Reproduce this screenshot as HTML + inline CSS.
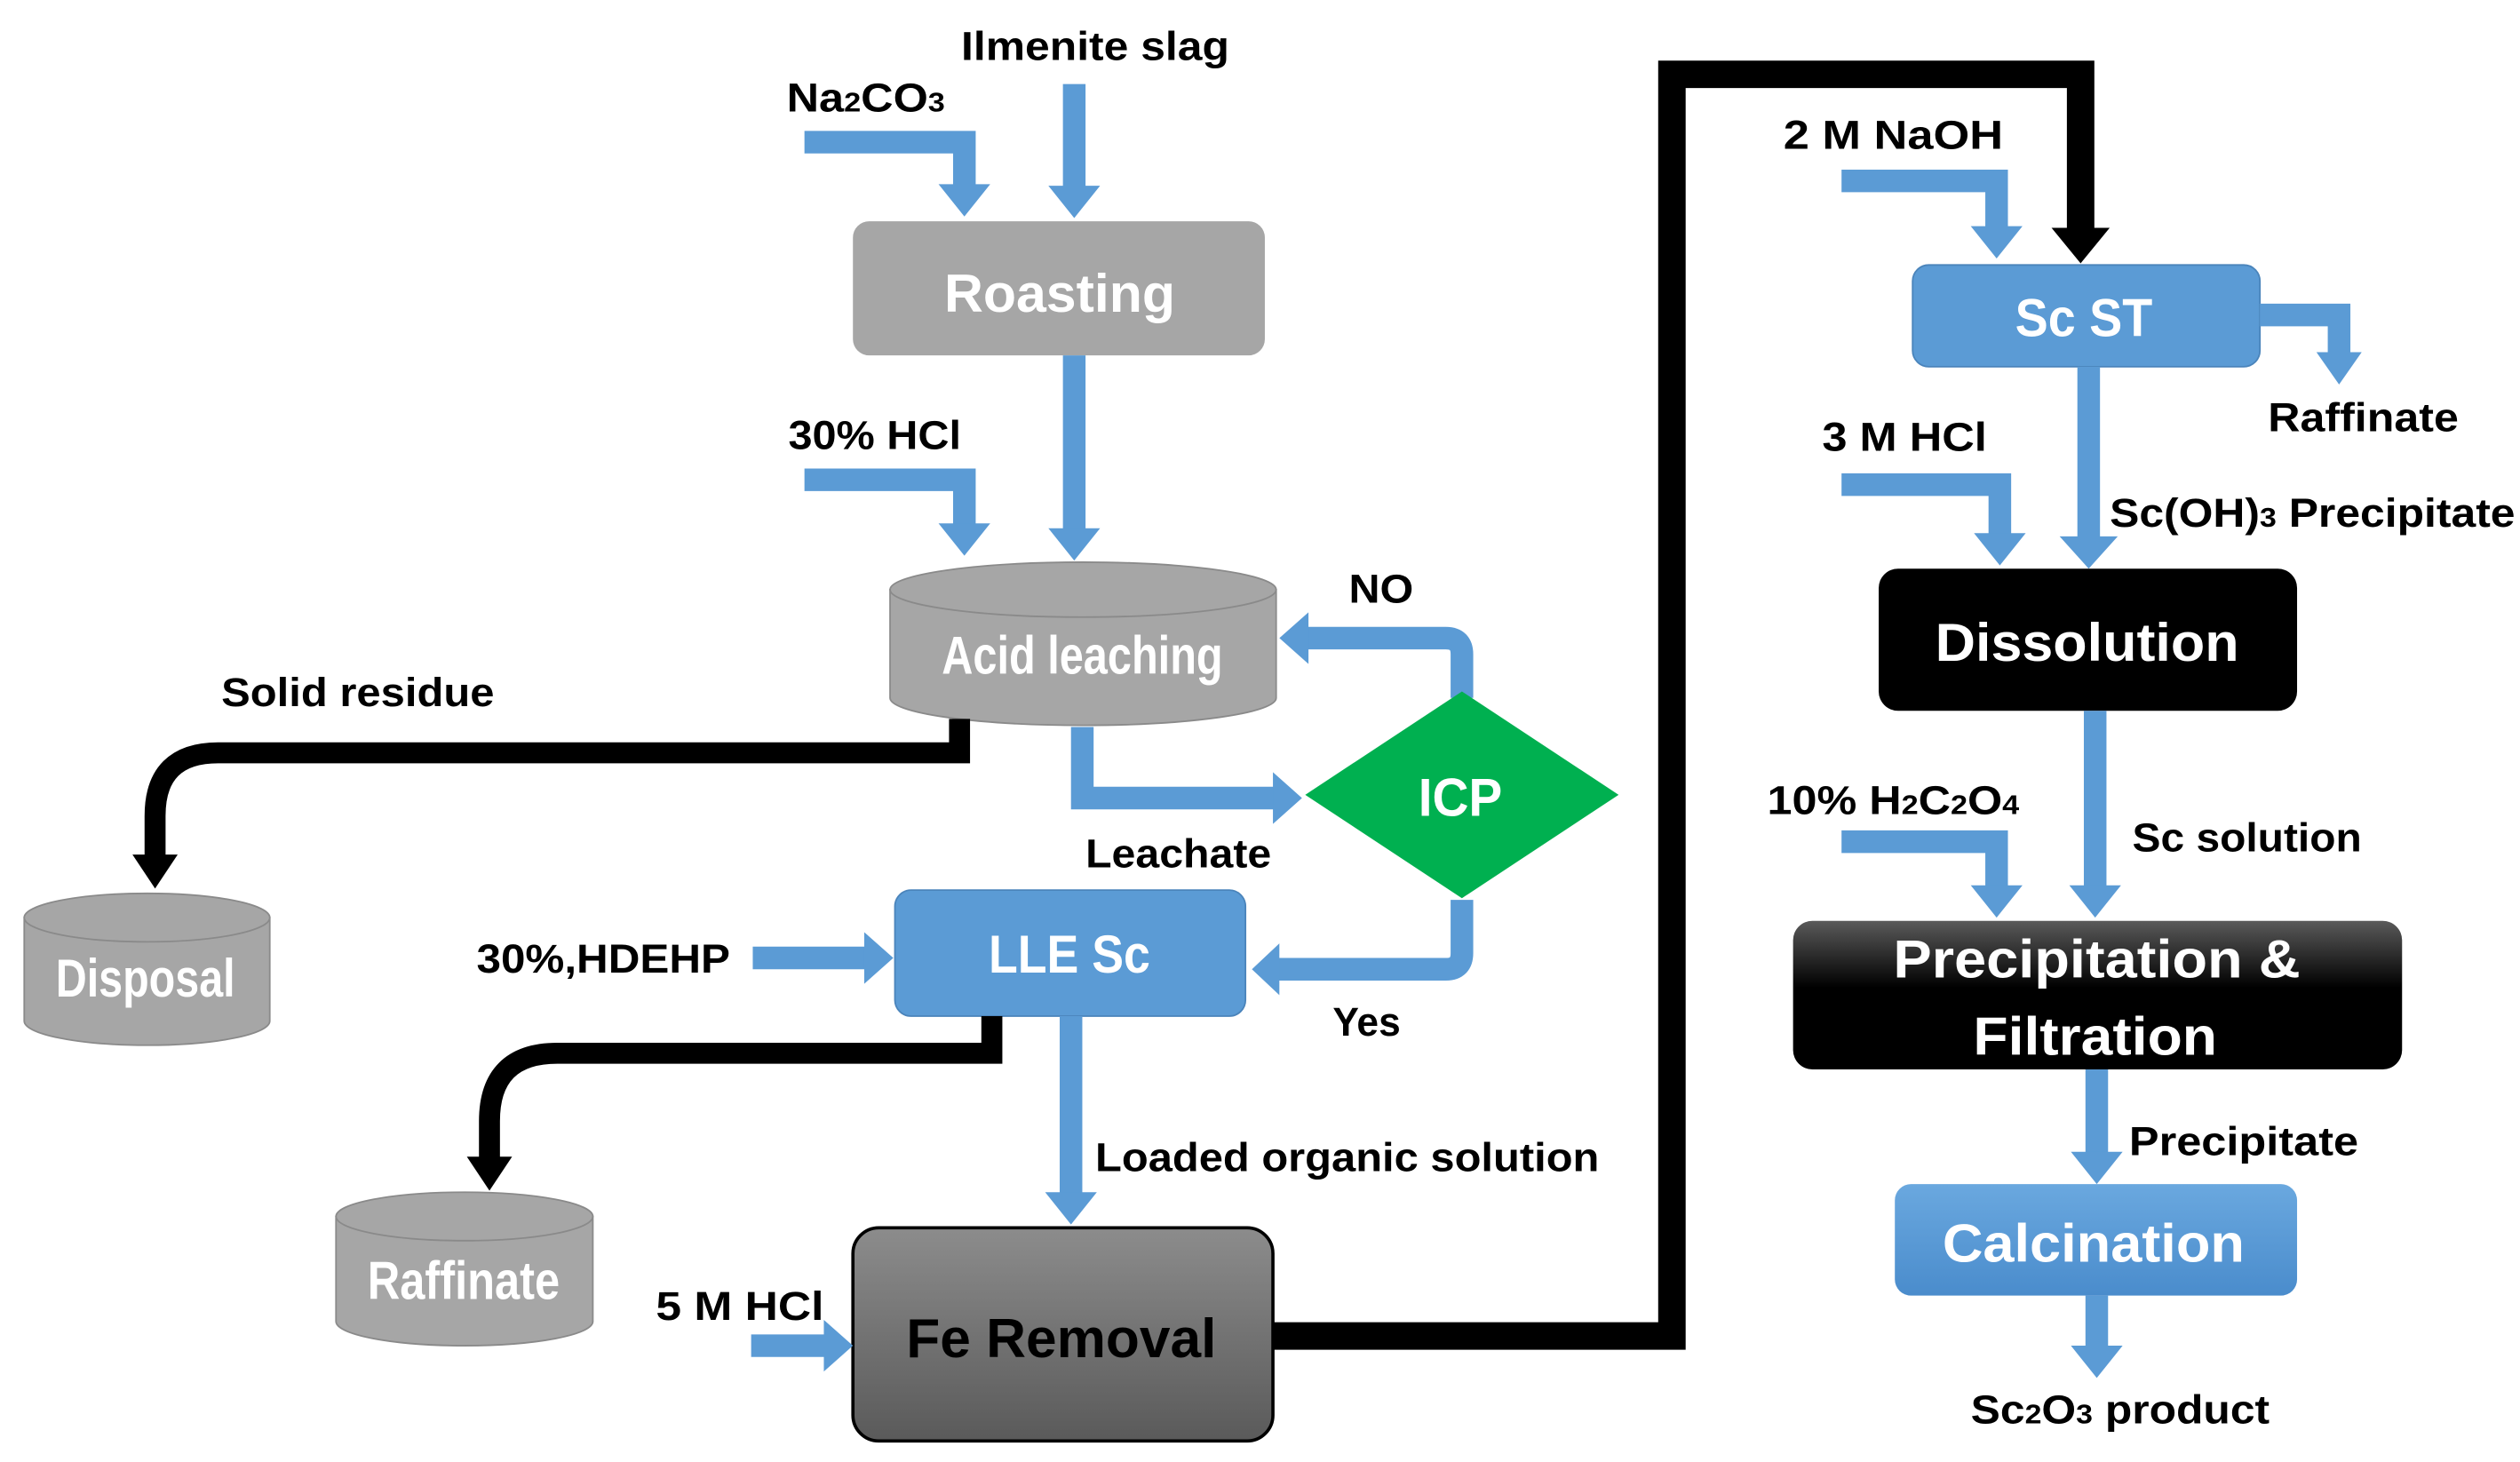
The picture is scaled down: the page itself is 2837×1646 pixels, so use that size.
<!DOCTYPE html>
<html><head><meta charset="utf-8"><style>
html,body{margin:0;padding:0;background:#fff;}
svg{display:block}
text{font-family:"Liberation Sans",sans-serif;font-weight:bold;}
.l{font-size:25px;fill:#000}
.w{fill:#fff;font-size:33px;text-anchor:middle}
.b{fill:none;stroke:#5B9BD5;stroke-width:14}
.h{fill:#5B9BD5}
.k{fill:none;stroke:#000;stroke-width:13}
</style></head><body>
<svg width="2837" height="1646" viewBox="0 0 1560 905" preserveAspectRatio="none">
<defs>
<linearGradient id="fe" x1="0" y1="0" x2="0" y2="1"><stop offset="0" stop-color="#8c8c8c"/><stop offset="1" stop-color="#5a5a5a"/></linearGradient>
<linearGradient id="pf" x1="0" y1="0" x2="0" y2="1"><stop offset="0" stop-color="#5a5a5a"/><stop offset="0.45" stop-color="#000"/><stop offset="1" stop-color="#000"/></linearGradient>
<linearGradient id="ca" x1="0" y1="0" x2="0" y2="1"><stop offset="0" stop-color="#6aa8df"/><stop offset="1" stop-color="#4a8ccc"/></linearGradient>
</defs>

<text class="l" x="595" y="37" textLength="166" lengthAdjust="spacingAndGlyphs">Ilmenite slag</text>
<polyline class="b" points="665,52 665,116"/><polygon class="h" points="649,115 681,115 665,135"/>
<text class="l" x="487" y="69" textLength="98" lengthAdjust="spacingAndGlyphs">Na<tspan font-size="17">2</tspan>CO<tspan font-size="17">3</tspan></text>
<polyline class="b" points="498,88 597,88 597,115"/><polygon class="h" points="581,114 613,114 597,134"/>

<rect x="528" y="137" width="255" height="83" rx="10" fill="#A6A6A6"/>
<text class="w" x="656" y="193" font-size="34" textLength="143" lengthAdjust="spacingAndGlyphs">Roasting</text>

<polyline class="b" points="665,220 665,328"/><polygon class="h" points="649,327 681,327 665,347"/>
<text class="l" x="488" y="278" textLength="107" lengthAdjust="spacingAndGlyphs">30% HCl</text>
<polyline class="b" points="498,297 597,297 597,325"/><polygon class="h" points="581,324 613,324 597,344"/>

<path d="M551,365 L551,432 A119.5,17 0 0 0 790,432 L790,365 Z" fill="#A6A6A6" stroke="#8a8a8a"/>
<ellipse cx="670.5" cy="365" rx="119.5" ry="17" fill="#A6A6A6" stroke="#8a8a8a"/>
<text class="w" x="670" y="417" font-size="28" textLength="174" lengthAdjust="spacingAndGlyphs">Acid leaching</text>

<path class="b" d="M905,432 L905,405 Q905,395 895,395 L808,395"/><polygon class="h" points="810,379 810,411 792,395"/>
<text class="l" x="835" y="373" textLength="40" lengthAdjust="spacingAndGlyphs">NO</text>

<polygon points="905,428 1002,492 905,556 808,492" fill="#00B050"/>
<text class="w" x="904" y="505" font-size="34" textLength="52" lengthAdjust="spacingAndGlyphs">ICP</text>

<polyline class="b" points="670,450 670,494 790,494"/><polygon class="h" points="788,478 788,510 806,494"/>
<text class="l" x="672" y="537" textLength="115" lengthAdjust="spacingAndGlyphs">Leachate</text>

<path class="b" d="M905,557 L905,590 Q905,600 895,600 L790,600"/><polygon class="h" points="792,584 792,616 775,600"/>
<text class="l" x="825" y="641" textLength="42" lengthAdjust="spacingAndGlyphs">Yes</text>

<rect x="554" y="551" width="217" height="78" rx="10" fill="#5B9BD5" stroke="#4a84bb"/>
<text class="w" x="662" y="602" font-size="33" textLength="100" lengthAdjust="spacingAndGlyphs">LLE Sc</text>
<text class="l" x="295" y="602" textLength="157" lengthAdjust="spacingAndGlyphs">30%,HDEHP</text>
<polyline class="b" points="466,593 536,593"/><polygon class="h" points="535,577 535,609 553,593"/>

<text class="l" x="137" y="437" textLength="169" lengthAdjust="spacingAndGlyphs">Solid residue</text>
<path class="k" d="M594,445 L594,466 L135,466 Q96,466 96,505 L96,530"/><polygon points="82,529 110,529 96,550" fill="#000"/>
<path d="M15,568 L15,632 A76,15 0 0 0 167,632 L167,568 Z" fill="#A6A6A6" stroke="#8a8a8a"/>
<ellipse cx="91" cy="568" rx="76" ry="15" fill="#A6A6A6" stroke="#8a8a8a"/>
<text class="w" x="90" y="617" font-size="27" textLength="111" lengthAdjust="spacingAndGlyphs">Disposal</text>

<path class="k" d="M614,629 L614,652 L345,652 Q303,652 303,694 L303,717"/><polygon points="289,716 317,716 303,737" fill="#000"/>
<path d="M208,753 L208,818 A79.5,15 0 0 0 367,818 L367,753 Z" fill="#A6A6A6" stroke="#8a8a8a"/>
<ellipse cx="287.5" cy="753" rx="79.5" ry="15" fill="#A6A6A6" stroke="#8a8a8a"/>
<text class="w" x="287" y="804" font-size="27" textLength="119" lengthAdjust="spacingAndGlyphs">Raffinate</text>

<polyline class="b" points="663,629 663,739"/><polygon class="h" points="647,738 679,738 663,758"/>
<text class="l" x="678" y="725" textLength="312" lengthAdjust="spacingAndGlyphs">Loaded organic solution</text>

<rect x="528" y="760" width="260" height="132" rx="16" fill="url(#fe)" stroke="#000" stroke-width="2"/>
<text x="657" y="840" font-size="34" text-anchor="middle" fill="#000" textLength="192" lengthAdjust="spacingAndGlyphs">Fe Removal</text>
<text class="l" x="406" y="817" textLength="104" lengthAdjust="spacingAndGlyphs">5 M HCl</text>
<polyline class="b" points="465,833 511,833"/><polygon class="h" points="510,817 510,849 528,833"/>

<path fill="none" stroke="#000" stroke-width="17" d="M788,827 L1035,827 L1035,46 L1288,46 L1288,142"/>
<polygon points="1270,141 1306,141 1288,163" fill="#000"/>

<text class="l" x="1104" y="92" textLength="136" lengthAdjust="spacingAndGlyphs">2 M NaOH</text>
<polyline class="b" points="1140,112 1236,112 1236,141"/><polygon class="h" points="1220,140 1252,140 1236,160"/>

<rect x="1184" y="164" width="215" height="63" rx="10" fill="#5B9BD5" stroke="#4a84bb"/>
<text class="w" x="1290" y="208" font-size="33" textLength="85" lengthAdjust="spacingAndGlyphs">Sc ST</text>
<polyline class="b" points="1399,195 1448,195 1448,219"/><polygon class="h" points="1434,218 1462,218 1448,238"/>
<text class="l" x="1404" y="267" textLength="118" lengthAdjust="spacingAndGlyphs">Raffinate</text>

<polyline class="b" points="1293,227 1293,333"/><polygon class="h" points="1275,332 1311,332 1293,352"/>
<text class="l" x="1306" y="326" textLength="251" lengthAdjust="spacingAndGlyphs">Sc(OH)<tspan font-size="17">3</tspan> Precipitate</text>
<text class="l" x="1128" y="279" textLength="102" lengthAdjust="spacingAndGlyphs">3 M HCl</text>
<polyline class="b" points="1140,300 1238,300 1238,331"/><polygon class="h" points="1222,330 1254,330 1238,350"/>

<rect x="1163" y="352" width="259" height="88" rx="12" fill="#000"/>
<text class="w" x="1292" y="409" font-size="34" textLength="188" lengthAdjust="spacingAndGlyphs">Dissolution</text>

<polyline class="b" points="1297,440 1297,549"/><polygon class="h" points="1281,548 1313,548 1297,568"/>
<text class="l" x="1320" y="527" textLength="142" lengthAdjust="spacingAndGlyphs">Sc solution</text>
<text class="l" x="1094" y="504" textLength="156" lengthAdjust="spacingAndGlyphs">10% H<tspan font-size="17">2</tspan>C<tspan font-size="17">2</tspan>O<tspan font-size="17">4</tspan></text>
<polyline class="b" points="1140,521 1236,521 1236,549"/><polygon class="h" points="1220,548 1252,548 1236,568"/>

<rect x="1110" y="570" width="377" height="92" rx="12" fill="url(#pf)"/>
<text class="w" x="1298" y="605" font-size="34" textLength="252" lengthAdjust="spacingAndGlyphs">Precipitation &amp;</text>
<text class="w" x="1297" y="653" font-size="34" textLength="151" lengthAdjust="spacingAndGlyphs">Filtration</text>

<polyline class="b" points="1298,662 1298,714"/><polygon class="h" points="1282,713 1314,713 1298,733"/>
<text class="l" x="1318" y="715" textLength="142" lengthAdjust="spacingAndGlyphs">Precipitate</text>

<rect x="1173" y="733" width="249" height="69" rx="10" fill="url(#ca)"/>
<text class="w" x="1296" y="781" font-size="34" textLength="187" lengthAdjust="spacingAndGlyphs">Calcination</text>
<polyline class="b" points="1298,802 1298,834"/><polygon class="h" points="1282,833 1314,833 1298,853"/>
<text class="l" x="1220" y="881" textLength="185" lengthAdjust="spacingAndGlyphs">Sc<tspan font-size="17">2</tspan>O<tspan font-size="17">3</tspan> product</text>
</svg>
</body></html>
